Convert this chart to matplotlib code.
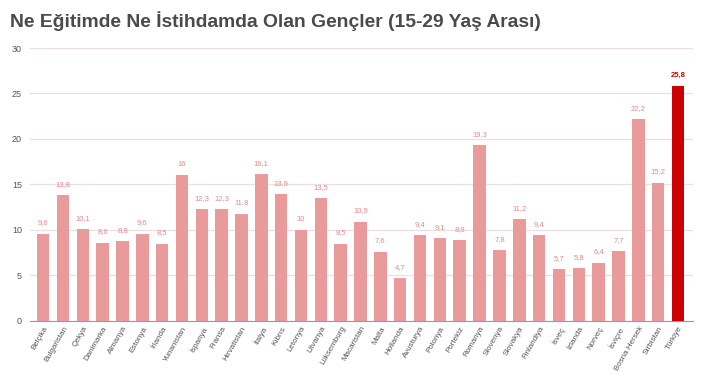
import matplotlib
matplotlib.use("Agg")
import matplotlib.pyplot as plt
import numpy as np

plt.rcParams['font.family'] = ['Liberation Sans', 'DejaVu Sans']

countries = ["Belçika", "Bulgaristan", "Çekya", "Danimarka", "Almanya", "Estonya", "İrlanda",
             "Yunanistan", "İspanya", "Fransa", "Hırvatistan", "İtalya", "Kıbrıs", "Letonya",
             "Litvanya", "Lüksemburg", "Macaristan", "Malta", "Hollanda", "Avusturya", "Polonya",
             "Portekiz", "Romanya", "Slovenya", "Slovakya", "Finlandiya", "İsveç", "İzlanda",
             "Norveç", "İsviçre", "Bosna Hersek", "Sırbistan", "Türkiye"]
values = [9.6, 13.8, 10.1, 8.6, 8.8, 9.6, 8.5, 16, 12.3, 12.3, 11.8, 16.1, 13.9, 10,
          13.5, 8.5, 10.9, 7.6, 4.7, 9.4, 9.1, 8.9, 19.3, 7.8, 11.2, 9.4, 5.7, 5.8,
          6.4, 7.7, 22.2, 15.2, 25.8]
yticks = [0, 5, 10, 15, 20, 25, 30]

fig = plt.figure(figsize=(7.02, 3.78), dpi=100)
ax = fig.add_axes([0.043, 0.151, 0.944, 0.722])

x = np.arange(len(countries))
colors = ["#e99a9a"] * (len(countries) - 1) + ["#cc0000"]
ax.bar(x, values, width=0.63, color=colors, zorder=3)

for i, v in enumerate(values):
    txt = ("%g" % v).replace(".", ",")
    last = i == len(values) - 1
    ax.text(i, v + 0.8, txt, ha="center", va="bottom", fontsize=5.5,
            color="#cc0000" if last else "#e58a8a",
            fontweight="bold" if last else "normal")

ax.set_xlim(-0.65, len(countries) - 0.25)
ax.set_ylim(0, 30)
ax.set_yticks(yticks)
ax.set_xticks(x)
ax.set_xticklabels(countries, rotation=60, ha="right", rotation_mode="anchor",
                   fontsize=5.8, color="#555555")
ax.tick_params(axis="y", length=0, labelsize=6.5, labelcolor="#555555", pad=6)
ax.tick_params(axis="x", length=0, pad=3)
ax.grid(axis="y", color="#ecdfe3", linewidth=0.9, zorder=0)
for s in ["top", "right", "left"]:
    ax.spines[s].set_visible(False)
ax.spines["bottom"].set_color("#999999")
ax.spines["bottom"].set_linewidth(0.8)

fig.text(0.014, 0.945, "Ne Eğitimde Ne İstihdamda Olan Gençler (15-29 Yaş Arası)",
         fontsize=13.9, fontweight="bold", color="#4a4a4a", va="center", ha="left")

fig.savefig("out.png", dpi=100)
